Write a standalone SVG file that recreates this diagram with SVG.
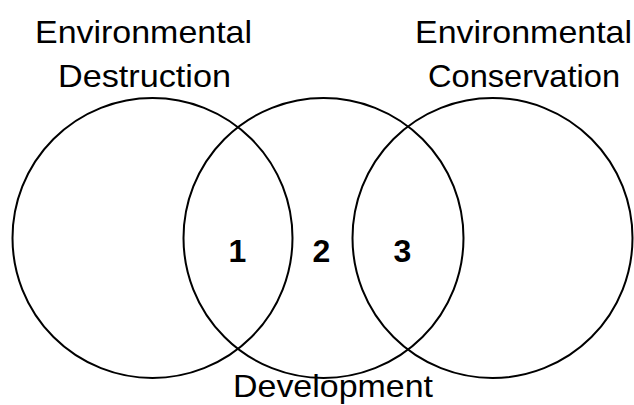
<svg xmlns="http://www.w3.org/2000/svg" width="634" height="405" viewBox="0 0 634 405">
<style>
.c{fill:none;stroke:#000;stroke-width:2}
.t{font-family:"Liberation Sans",Arial,sans-serif;font-size:32px;fill:#000;text-anchor:middle}
.n{font-family:"Liberation Sans",Arial,sans-serif;font-size:32px;font-weight:bold;fill:#000;text-anchor:middle}
</style>
<rect width="634" height="405" fill="#fff"/>
<g id="destruction">
<circle class="c" cx="152.5" cy="238" r="140"/>
<text class="t" x="143.5" y="43" textLength="217" lengthAdjust="spacingAndGlyphs">Environmental</text>
<text class="t" x="144.5" y="87" textLength="173" lengthAdjust="spacingAndGlyphs">Destruction</text>
</g>
<g id="development">
<circle class="c" cx="323.5" cy="238" r="140"/>
<text class="t" x="333" y="397" textLength="200" lengthAdjust="spacingAndGlyphs">Development</text>
</g>
<g id="conservation">
<circle class="c" cx="492.5" cy="238" r="140"/>
<text class="t" x="523.5" y="43" textLength="217" lengthAdjust="spacingAndGlyphs">Environmental</text>
<text class="t" x="524" y="87" textLength="192" lengthAdjust="spacingAndGlyphs">Conservation</text>
</g>
<g id="regions">
<text class="n" x="237.5" y="262">1</text>
<text class="n" x="321.5" y="262">2</text>
<text class="n" x="402.5" y="262">3</text>
</g>
<g id="connectors"/>
</svg>
